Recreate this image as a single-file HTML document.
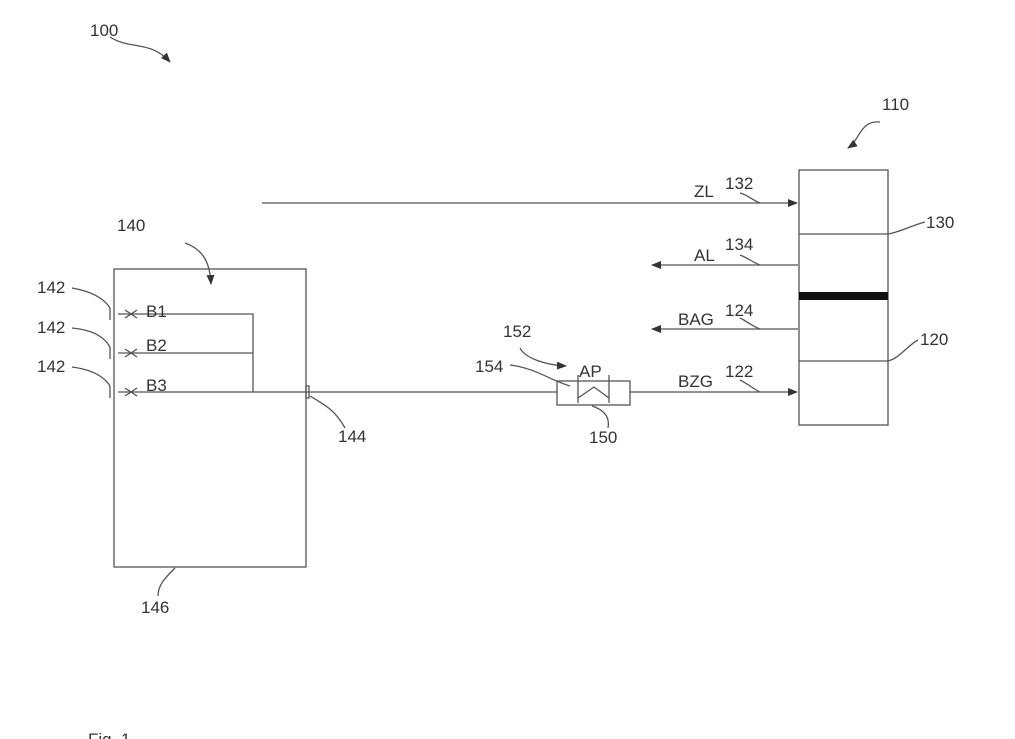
<!DOCTYPE html>
<html><head><style>body{margin:0;background:#fff}svg{display:block}text{font-family:"Liberation Sans",sans-serif;font-size:17px;fill:#333}</style></head><body>
<svg width="1015" height="739" viewBox="0 0 1015 739" xmlns="http://www.w3.org/2000/svg">
<defs><marker id="a" markerWidth="10" markerHeight="8" refX="9" refY="4" orient="auto" markerUnits="userSpaceOnUse"><path d="M0,0 L10,4 L0,8 z" fill="#333"/></marker></defs>
<g stroke="#555" stroke-width="1.3" fill="none">
<path d="M110,37 C130,50 150,40 170,62" marker-end="url(#a)"/>
<path d="M880,122 C860,120 860,140 848,148" marker-end="url(#a)"/>
<rect x="114" y="269" width="192" height="298"/>
<path d="M185,243 C205,250 210,265 211,284" marker-end="url(#a)"/>
<path d="M118,314 H253 V392"/>
<path d="M118,353 H253"/>
<path d="M118,392 H557"/>
<path d="M110,308 v12 M110,347 v12 M110,386 v12"/>
<path d="M72,288 C95,292 105,300 110,308"/>
<path d="M72,328 C95,330 105,338 110,347"/>
<path d="M72,367 C95,370 105,378 110,386"/>
<path d="M125,310 l12,8 M125,318 l12,-8 M125,349 l12,8 M125,357 l12,-8 M125,388 l12,8 M125,396 l12,-8"/>
<rect x="306" y="386" width="3" height="12"/>
<path d="M310,396 C325,405 335,410 345,428"/>
<path d="M175,568 C165,578 158,585 158,596"/>
<rect x="557" y="381" width="73" height="24"/>
<path d="M578,375 V403 M609,375 V403 M578,398 L594,387 L609,398"/>
<path d="M630,392 H797" marker-end="url(#a)"/>
<path d="M520,348 C525,358 545,365 566,366" marker-end="url(#a)"/>
<path d="M510,365 C535,368 550,380 570,386"/>
<path d="M592,406 C605,410 610,418 608,428"/>
<path d="M262,203 H797" marker-end="url(#a)"/>
<path d="M798,265 H652" marker-end="url(#a)"/>
<path d="M798,329 H652" marker-end="url(#a)"/>
<rect x="799" y="170" width="89" height="255"/>
<path d="M799,234 H888 M799,361 H888"/>
<path d="M888,234 C900,232 910,226 925,222"/>
<path d="M888,361 C900,358 908,345 918,340"/>
<path d="M740,193 C748,195 752,200 760,203"/>
<path d="M740,255 C748,258 752,262 760,265"/>
<path d="M740,318 C748,322 752,326 760,329"/>
<path d="M740,380 C748,384 752,388 760,392"/>
</g>
<rect x="799" y="292" width="89" height="8" fill="#111"/>
<text x="90" y="36">100</text>
<text x="882" y="110">110</text>
<text x="117" y="231">140</text>
<text x="37" y="293">142</text>
<text x="37" y="333">142</text>
<text x="37" y="372">142</text>
<text x="146" y="317">B1</text>
<text x="146" y="351">B2</text>
<text x="146" y="391">B3</text>
<text x="338" y="442">144</text>
<text x="141" y="613">146</text>
<text x="503" y="337">152</text>
<text x="475" y="372">154</text>
<text x="579" y="377">AP</text>
<text x="589" y="443">150</text>
<text x="694" y="197">ZL</text>
<text x="725" y="189">132</text>
<text x="694" y="261">AL</text>
<text x="725" y="250">134</text>
<text x="678" y="325">BAG</text>
<text x="725" y="316">124</text>
<text x="678" y="387">BZG</text>
<text x="725" y="377">122</text>
<text x="926" y="228">130</text>
<text x="920" y="345">120</text>
<text x="88" y="745">Fig. 1</text>
</svg>
</body></html>
